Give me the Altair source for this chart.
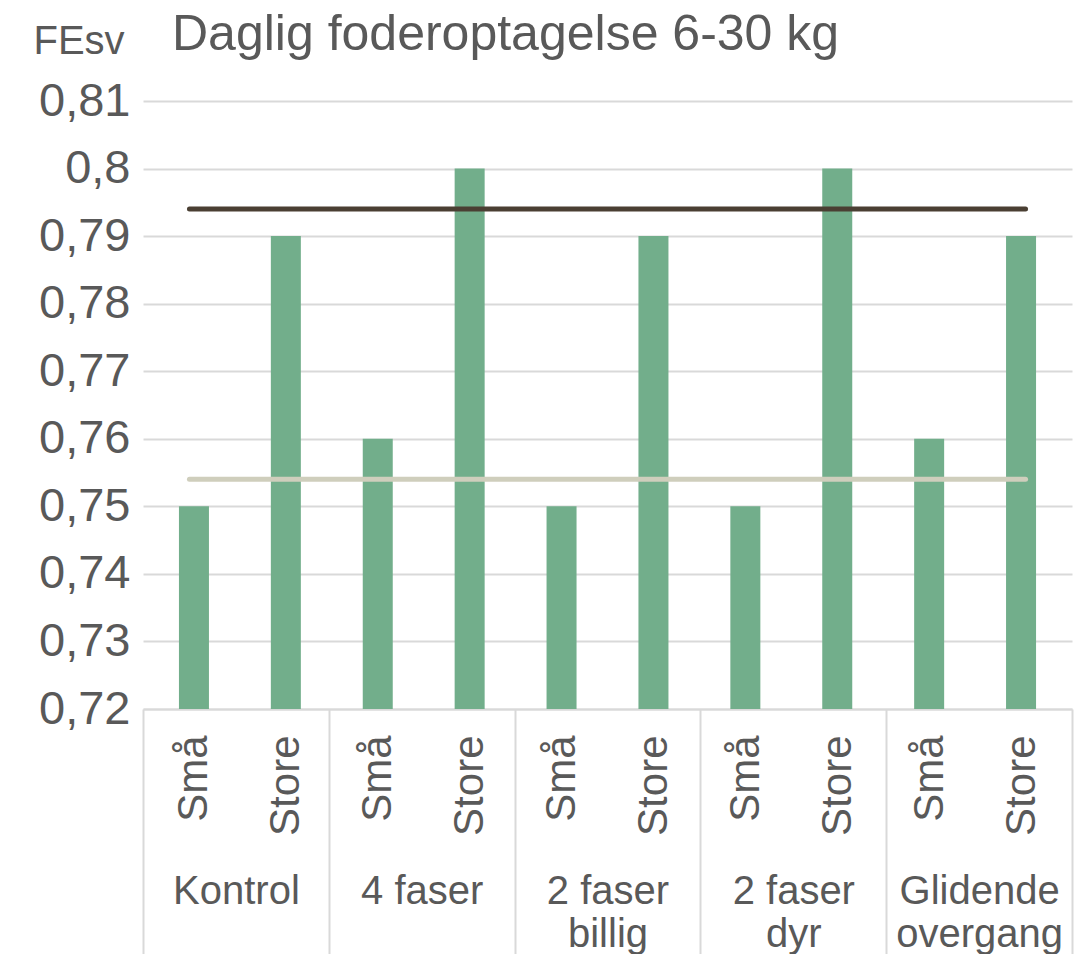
import altair as alt
import pandas as pd

# ---- data ----
groups = ["Kontrol", "4 faser", "2 faser billig", "2 faser dyr", "Glidende overgang"]
group_label_lines = [["Kontrol"], ["4 faser"], ["2 faser", "billig"], ["2 faser", "dyr"], ["Glidende", "overgang"]]
sizes = ["Små", "Store"]
smaa_values = [0.75, 0.76, 0.75, 0.75, 0.76]
store_values = [0.79, 0.80, 0.79, 0.80, 0.79]
smaa_avg = 0.754
store_avg = 0.794
y_ticks = [0.72, 0.73, 0.74, 0.75, 0.76, 0.77, 0.78, 0.79, 0.80, 0.81]

FONT = "Liberation Sans"
TXT = "#595959"
GRID = "#d9d9d9"

rows = []
for gi, g in enumerate(groups):
    for si, s in enumerate(sizes):
        val = smaa_values[gi] if si == 0 else store_values[gi]
        rows.append({"group": g, "size": s, "value": val, "pos": 2 * gi + si + 0.5})
bars_df = pd.DataFrame(rows)

line_rows = []
for gi, g in enumerate(groups):
    for si in range(2):
        p = 2 * gi + si + 0.5
        line_rows.append({"pos": p, "series": "Små", "avg": smaa_avg})
        line_rows.append({"pos": p, "series": "Store", "avg": store_avg})
lines_df = pd.DataFrame(line_rows)

n = len(groups) * len(sizes)
xdom = [0, n]

sub_expr = "[" + ",".join("'" + s + "'" for g in groups for s in sizes) + "][floor(datum.value)]"
grp_expr = "[" + ",".join("[" + ",".join("'" + t + "'" for t in lines) + "]" for lines in group_label_lines) + "][floor(datum.value/2)]"

yscale = alt.Scale(domain=[y_ticks[0], y_ticks[-1]], zero=False, nice=False)
yaxis = alt.Axis(
    values=y_ticks,
    labelExpr="replace(format(datum.value, '.2~f'), '.', ',')",
    title="FEsv", titleAngle=0, titleAlign="left", titleBaseline="alphabetic",
    titleX=-110, titleY=-48, titleFontSize=40, titleFont=FONT, titleColor=TXT, titleFontWeight="normal",
    labelFont=FONT, labelFontSize=47, labelColor=TXT, labelPadding=13,
    ticks=False, domain=False, grid=True, gridColor=GRID, gridWidth=2,
)

bars = alt.Chart(bars_df).mark_bar(width=30, color="#72AE8B", clip=True).encode(
    x=alt.X("pos:Q", scale=alt.Scale(domain=xdom, nice=False, zero=False),
            axis=alt.Axis(orient="bottom", values=[i + 0.5 for i in range(n)], labelExpr=sub_expr,
                          labelAngle=270, labelAlign="right", labelBaseline="middle", labelPadding=26,
                          labelFont=FONT, labelFontSize=42, labelColor=TXT,
                          ticks=False, grid=False, domain=True, domainColor=GRID, domainWidth=2,
                          title=None)),
    y=alt.Y("value:Q", scale=yscale, axis=yaxis),
)

sep_axis = alt.Axis(orient="bottom", values=[2 * i for i in range(len(groups) + 1)], labels=False,
                    ticks=True, tickSize=245, tickColor=GRID, tickWidth=2, domain=False, grid=False, title=None)
grp_axis = alt.Axis(orient="bottom", values=[2 * i + 1 for i in range(len(groups))], labelExpr=grp_expr,
                    labelFont=FONT, labelFontSize=40, labelColor=TXT, labelPadding=162, labelLineHeight=43,
                    labelBaseline="top", labelAlign="center",
                    ticks=False, domain=False, grid=False, title=None)

color_scale = alt.Scale(domain=["Små", "Store"], range=["#CFCEBC", "#4A3F33"])

line_smaa = alt.Chart(lines_df).transform_filter(alt.datum.series == "Små").mark_line(
    strokeWidth=5, strokeCap="round").encode(
    x=alt.X("pos:Q", scale=alt.Scale(domain=xdom, nice=False, zero=False), axis=sep_axis),
    y=alt.Y("avg:Q", scale=yscale),
    color=alt.Color("series:N", scale=color_scale, legend=None),
)
line_store = alt.Chart(lines_df).transform_filter(alt.datum.series == "Store").mark_line(
    strokeWidth=5, strokeCap="round").encode(
    x=alt.X("pos:Q", scale=alt.Scale(domain=xdom, nice=False, zero=False), axis=grp_axis),
    y=alt.Y("avg:Q", scale=yscale),
    color=alt.Color("series:N", scale=color_scale, legend=None),
)

chart = alt.layer(bars, line_smaa, line_store).resolve_scale(x="independent").properties(
    width=929, height=608,
    padding={"left": 135, "top": 93, "right": 12, "bottom": 245},
    autosize=alt.AutoSizeParams(type="none"),
    title=alt.TitleParams("Daglig foderoptagelse 6-30 kg", anchor="start", frame="group", dx=29, dy=79,
                          font=FONT, fontSize=50, color=TXT, fontWeight="normal", baseline="alphabetic",
                          offset=0),
).configure_view(stroke=None)

chart.save("out.html", embed_options={"renderer": "svg", "actions": False})
